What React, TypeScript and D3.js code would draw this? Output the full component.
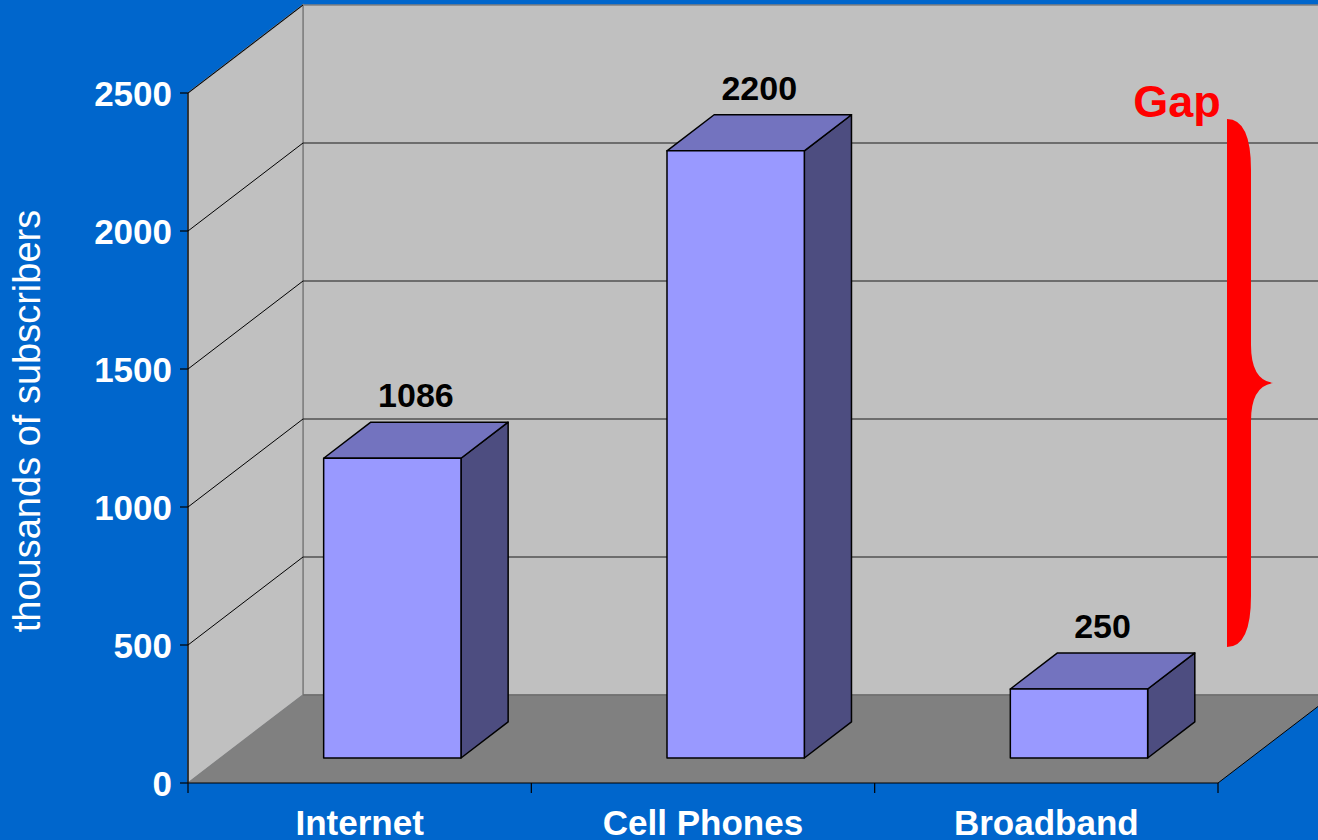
import React from "react";
import * as d3 from "d3";

const categories = ["Internet", "Cell Phones", "Broadband"];
const subscribers = [1086, 2200, 250];
const yTicks = [0, 500, 1000, 1500, 2000, 2500];

const W = 1318;
const H = 840;
const DX = 115; // 3d depth offsets of the plot
const DY = 88;

const App: React.FC = () => {
  const y = d3.scaleLinear().domain([0, 2500]).range([783, 93]);
  const x = d3.scaleBand<string>().domain(categories).range([188, 1218]).padding(0);
  const step = x.step();
  const barW = step * 0.4;
  const f0 = 0.284; // depth fraction of bar front
  const fd = 0.41; // bar depth fraction
  const bdx = DX * fd;
  const bdy = DY * fd;
  const base = y(0);
  const xRight = x.range()[1];

  const font = "Arial, 'Liberation Sans', sans-serif";

  return (
    <svg
      width={W}
      height={H}
      style={{ position: "absolute", left: 0, top: 0 }}
      fontFamily={font}
    >
      <rect width={W} height={H} fill="#0066cc" />
      {/* back wall */}
      <rect x={188 + DX} y={y(2500) - DY} width={W} height={base - y(2500)} fill="#c0c0c0" stroke="#808080" strokeWidth={1.5} />
      {/* left wall */}
      <polygon
        points={`188,${base} 188,${y(2500)} ${188 + DX},${y(2500) - DY} ${188 + DX},${base - DY}`}
        fill="#c0c0c0"
        stroke="#808080"
        strokeWidth={1.5}
      />
      {/* floor */}
      <polygon
        points={`188,${base} ${xRight},${base} ${xRight + DX},${base - DY} ${188 + DX},${base - DY}`}
        fill="#808080"
      />
      <line x1={188 + DX} y1={base - DY} x2={W} y2={base - DY} stroke="#6e6e6e" strokeWidth={1.5} />
      <line x1={xRight} y1={base} x2={xRight + DX} y2={base - DY} stroke="#000" strokeWidth={1} />
      {/* gridlines */}
      {yTicks.filter((t) => t > 0).map((t) => (
        <g key={t}>
          <line x1={188} y1={y(t)} x2={188 + DX} y2={y(t) - DY} stroke="#000" strokeWidth={1} />
          {t < 2500 && (
            <line x1={188 + DX} y1={y(t) - DY} x2={W} y2={y(t) - DY} stroke="#1a1a1a" strokeWidth={1.2} />
          )}
        </g>
      ))}
      {/* bars */}
      {categories.map((c, i) => {
        const v = subscribers[i];
        const x0 = (x(c) as number) + step * 0.3 + DX * f0;
        const yb = base - DY * f0;
        const h = base - y(v);
        const yt = yb - h;
        return (
          <g key={c} stroke="#000" strokeWidth={1.5} strokeLinejoin="round">
            <polygon
              points={`${x0 + barW},${yb} ${x0 + barW + bdx},${yb - bdy} ${x0 + barW + bdx},${yt - bdy} ${x0 + barW},${yt}`}
              fill="#4d4d80"
            />
            <polygon
              points={`${x0},${yt} ${x0 + barW},${yt} ${x0 + barW + bdx},${yt - bdy} ${x0 + bdx},${yt - bdy}`}
              fill="#7373bf"
            />
            <rect x={x0} y={yt} width={barW} height={h} fill="#9999ff" />
            <text
              x={x0 + barW / 2 + bdx / 2}
              y={yt - bdy - 15}
              textAnchor="middle"
              fontSize={34}
              fontWeight="bold"
              fill="#000"
              stroke="none"
            >
              {v}
            </text>
          </g>
        );
      })}
      {/* axes */}
      <line x1={188} y1={y(0)} x2={188} y2={y(2500)} stroke="#000" strokeWidth={1.2} />
      <line x1={188} y1={base} x2={xRight} y2={base} stroke="#000" strokeWidth={1.2} />
      {yTicks.map((t) => (
        <g key={t}>
          <line x1={180} y1={y(t)} x2={188} y2={y(t)} stroke="#000" strokeWidth={1.2} />
          <text x={172} y={y(t)} dy="0.36em" textAnchor="end" fontSize={35} fontWeight="bold" fill="#fff">
            {t}
          </text>
        </g>
      ))}
      {[...categories.map((c) => x(c) as number), xRight].map((px, i) => (
        <line key={i} x1={px} y1={base} x2={px} y2={base + 10} stroke="#000" strokeWidth={1.2} />
      ))}
      {categories.map((c) => (
        <text
          key={c}
          x={(x(c) as number) + step / 2}
          y={835}
          textAnchor="middle"
          fontSize={35}
          fontWeight="bold"
          fill="#fff"
        >
          {c}
        </text>
      ))}
      <text
        transform={`translate(40,421) rotate(-90)`}
        textAnchor="middle"
        fontSize={38}
        fill="#fff"
      >
        thousands of subscribers
      </text>
      {/* gap annotation */}
      <text x={1177} y={117} textAnchor="middle" fontSize={45} fontWeight="bold" fill="#ff0000">
        Gap
      </text>
      <path
        d="M1227,119 Q1251,119 1251,170 L1251,345 Q1251,380 1273,383 Q1251,386 1251,421 L1251,596 Q1251,647 1227,647 Z"
        fill="#ff0000"
      />
    </svg>
  );
};

export default App;
